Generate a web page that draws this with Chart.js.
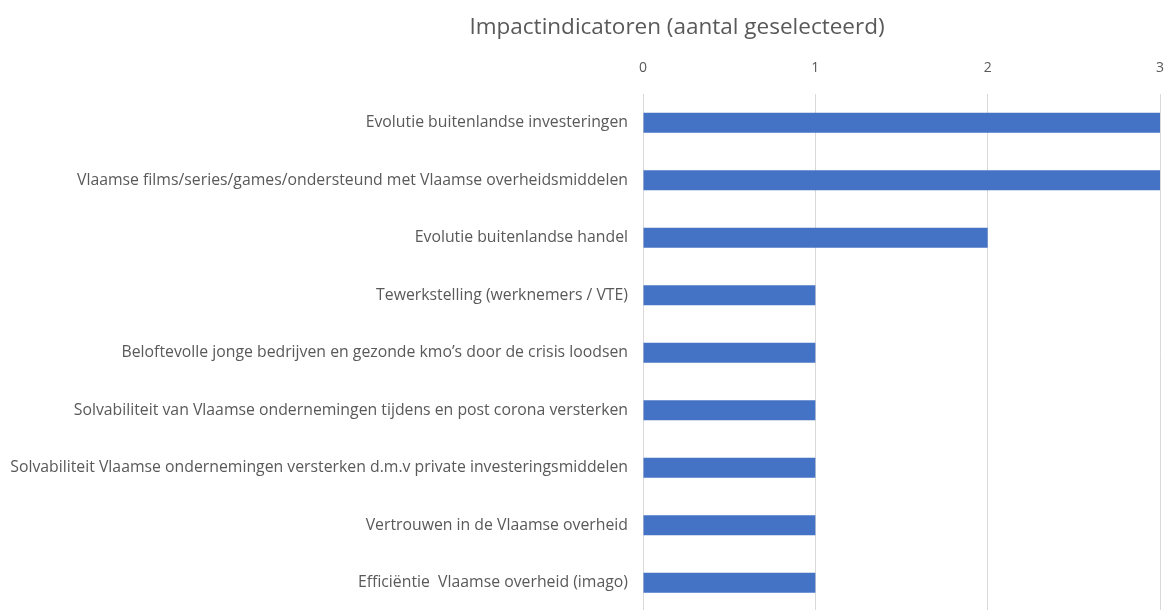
<!DOCTYPE html>
<html>
<head>
<meta charset="utf-8">
<script src="https://cdn.jsdelivr.net/npm/chart.js@4/dist/chart.umd.min.js"></script>
<style>
  html, body { margin: 0; padding: 0; background: #fff; }
  #wrap { width: 1165px; height: 610px; overflow: hidden; }
</style>
</head>
<body>
<div id="wrap"><canvas id="chart" width="1165" height="621"></canvas></div>
<script>
// Indicatoren en aantal keer geselecteerd
const categories = [
  'Evolutie buitenlandse investeringen',
  'Vlaamse films/series/games/ondersteund met Vlaamse overheidsmiddelen',
  'Evolutie buitenlandse handel',
  'Tewerkstelling (werknemers / VTE)',
  'Beloftevolle jonge bedrijven en gezonde kmo\u2019s door de crisis loodsen',
  'Solvabiliteit van Vlaamse ondernemingen tijdens en post corona versterken',
  'Solvabiliteit Vlaamse ondernemingen versterken d.m.v private investeringsmiddelen',
  'Vertrouwen in de Vlaamse overheid',
  'Effici\u00ebntie  Vlaamse overheid (imago)'
];
const counts = [3, 3, 2, 1, 1, 1, 1, 1, 1];
const axisTicks = [0, 1, 2, 3];
const chartTitle = 'Impactindicatoren (aantal geselecteerd)';

const FONT = '"Open Sans", Lato, sans-serif';
const TEXT_COLOR = '#595959';

// titel iets rechts van het midden, zoals in het origineel
const titlePlugin = {
  id: 'customTitle',
  afterDraw(chart) {
    const ctx = chart.ctx;
    ctx.save();
    ctx.font = '22.5px ' + FONT;
    ctx.fillStyle = TEXT_COLOR;
    ctx.textAlign = 'center';
    ctx.textBaseline = 'middle';
    ctx.fillText(chartTitle, 677, 28);
    ctx.restore();
  }
};

new Chart(document.getElementById('chart').getContext('2d'), {
  type: 'bar',
  data: {
    labels: categories,
    datasets: [{
      data: counts,
      backgroundColor: '#4472C4',
      borderWidth: 0,
      categoryPercentage: 1,
      barPercentage: 0.35
    }]
  },
  options: {
    indexAxis: 'y',
    responsive: false,
    animation: false,
    layout: { padding: { top: 50, right: 5, left: 0, bottom: 0 } },
    scales: {
      x: {
        position: 'top',
        min: 0,
        max: 3,
        afterBuildTicks: (axis) => { axis.ticks = axisTicks.map(v => ({ value: v })); },
        afterFit: (axis) => { axis.height = 44; },
        // afstand via onzichtbare tick-streepjes; ticks.padding telt mee in de marge rechts
        grid: { color: '#d9d9d9', drawTicks: true, tickLength: 18, tickColor: 'rgba(0,0,0,0)' },
        border: { display: false },
        ticks: { color: TEXT_COLOR, font: { family: FONT, size: 14 }, padding: 0 }
      },
      y: {
        afterFit: (axis) => { axis.width = 643; },
        grid: { display: false, drawTicks: true, tickLength: 15 },
        border: { display: false },
        ticks: { color: TEXT_COLOR, font: { family: FONT, size: 15.8 }, padding: 0, autoSkip: false }
      }
    },
    plugins: {
      legend: { display: false },
      title: { display: false },
      tooltip: { enabled: false }
    }
  },
  plugins: [titlePlugin]
});
</script>
</body>
</html>
